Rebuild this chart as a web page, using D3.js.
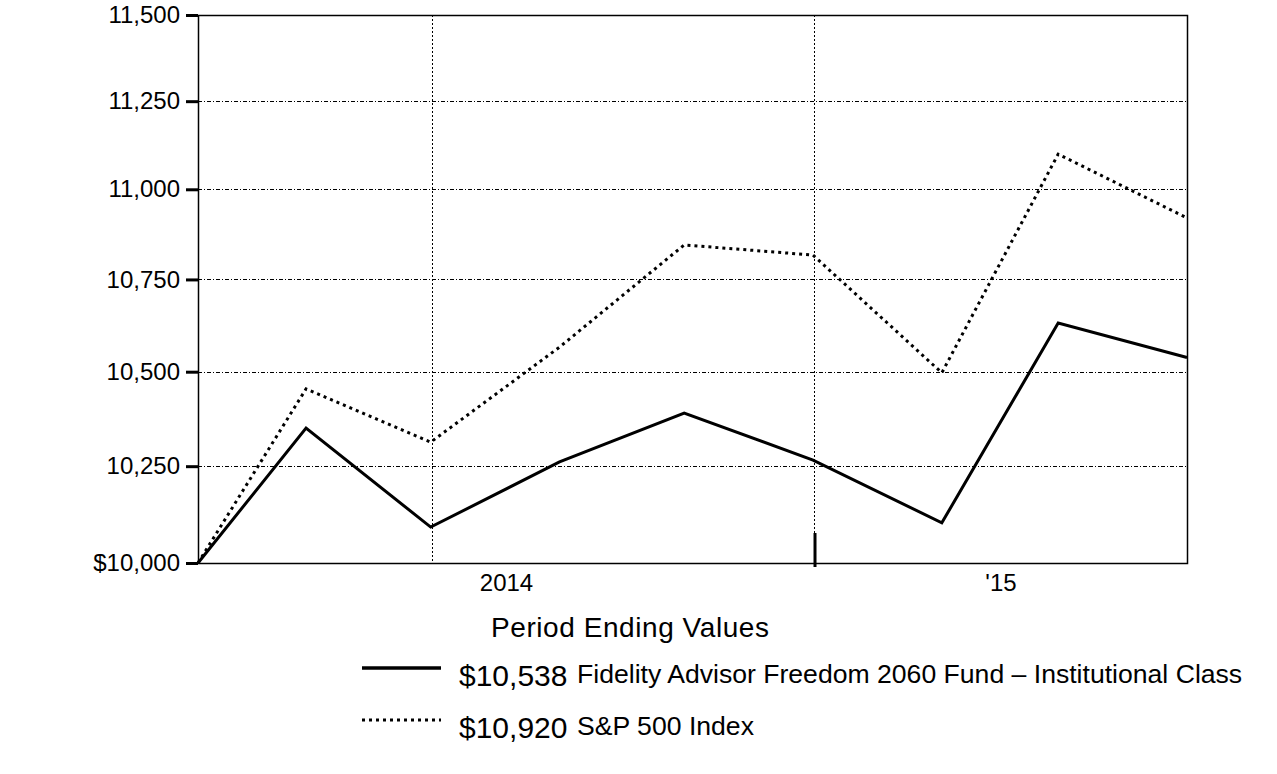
<!DOCTYPE html>
<html>
<head>
<meta charset="utf-8">
<script src="https://cdn.jsdelivr.net/npm/d3@7"></script>
<style>
  body { margin: 0; background: #fff; }
  svg text { font-family: "Liberation Sans", Arial, sans-serif; fill: #000; }
</style>
</head>
<body>
<div id="chart"></div>
<script>
(function() {

    var width = 1277;
    var height = 774;

    // period ends (fund inception Aug 5, 2014 through Mar 31, 2015)
    var dates = ["2014-08-05", "2014-08-31", "2014-09-30", "2014-10-31", "2014-11-30",
                 "2014-12-31", "2015-01-31", "2015-02-28", "2015-03-31"];
    var fundValues = [10000, 10350, 10092, 10261, 10390, 10266, 10103, 10631, 10538];
    var spValues = [10000, 10454, 10313, 10566, 10845, 10817, 10497, 11099, 10920];

    var yTicks = [10000, 10250, 10500, 10750, 11000, 11250, 11500];
    var yTickLabels = ["$10,000", "10,250", "10,500", "10,750", "11,000", "11,250", "11,500"];
    var gridDates = ["2014-09-30", "2014-12-31"];
    var yearBreak = "2014-12-31";
    var yearLabels = ["2014", "'15"];

    var legendNames = ["Fidelity Advisor Freedom 2060 Fund \u2013 Institutional Class", "S&P 500 Index"];
    var legendValues = ["$10,538", "$10,920"];

    var parse = d3.utcParse("%Y-%m-%d");

    var left = 198, right = 1187, top = 15, bottom = 563;

    var x = d3.scaleUtc()
        .domain([parse(dates[0]), parse(dates[dates.length - 1])])
        .range([left, right]);

    var y = d3.scaleLog()
        .domain([10000, 11500])
        .range([bottom, top]);

    var svg = d3.select("#chart")
        .append("svg")
        .attr("width", width)
        .attr("height", height);

    // horizontal grid
    svg.selectAll(".hgrid")
        .data(yTicks.slice(1, -1))
        .enter().append("line")
        .attr("class", "hgrid")
        .attr("x1", left).attr("x2", right)
        .attr("y1", function (d) { return Math.round(y(d)) + 0.5; })
        .attr("y2", function (d) { return Math.round(y(d)) + 0.5; })
        .attr("stroke", "#000")
        .attr("stroke-width", 1)
        .attr("stroke-dasharray", "4,2,1,2");

    // vertical grid
    svg.selectAll(".vgrid")
        .data(gridDates)
        .enter().append("line")
        .attr("class", "vgrid")
        .attr("x1", function (d) { return Math.round(x(parse(d))) + 1.5; })
        .attr("x2", function (d) { return Math.round(x(parse(d))) + 1.5; })
        .attr("y1", top).attr("y2", bottom)
        .attr("stroke", "#000")
        .attr("stroke-width", 1)
        .attr("stroke-dasharray", "2,2");

    // frame
    svg.append("rect")
        .attr("x", left + 0.5).attr("y", top + 0.5)
        .attr("width", right - left).attr("height", bottom - top)
        .attr("fill", "none")
        .attr("stroke", "#000")
        .attr("stroke-width", 1.5);

    // y axis ticks + labels
    var yAxis = d3.axisLeft(y)
        .tickValues(yTicks)
        .tickSize(12)
        .tickPadding(6)
        .tickFormat(function (d, i) { return yTickLabels[i]; });

    var gy = svg.append("g")
        .attr("transform", "translate(" + left + ",0)")
        .call(yAxis);
    gy.select(".domain").remove();
    gy.selectAll(".tick line").attr("stroke", "#000").attr("stroke-width", 3);
    gy.selectAll(".tick text")
        .style("font-family", "'Liberation Sans', Arial, sans-serif")
        .style("font-size", "24px")
        .attr("fill", "#000");

    // year break tick
    var xb = x(parse(yearBreak)) + 2;
    svg.append("line")
        .attr("x1", xb).attr("x2", xb)
        .attr("y1", bottom - 30).attr("y2", bottom + 4)
        .attr("stroke", "#000")
        .attr("stroke-width", 3);

    // year labels centred in their segments
    var yearCentres = [(left + xb) / 2, (xb + right) / 2];
    svg.selectAll(".year")
        .data(yearLabels)
        .enter().append("text")
        .attr("class", "year")
        .attr("x", function (d, i) { return yearCentres[i]; })
        .attr("y", 591)
        .attr("text-anchor", "middle")
        .style("font-size", "24px")
        .text(function (d) { return d; });

    svg.append("text")
        .attr("x", 491)
        .attr("y", 637)
        .style("font-size", "28px")
        .attr("textLength", 278)
        .text("Period Ending Values");

    // series
    var line = d3.line()
        .x(function (d, i) { return x(parse(dates[i])); })
        .y(function (d) { return y(d); });

    svg.append("path")
        .datum(spValues)
        .attr("d", line)
        .attr("fill", "none")
        .attr("stroke", "#000")
        .attr("stroke-width", 3)
        .attr("stroke-dasharray", "3,4");

    svg.append("path")
        .datum(fundValues)
        .attr("d", line)
        .attr("fill", "none")
        .attr("stroke", "#000")
        .attr("stroke-width", 3);

    // legend
    var rows = [0, 1];
    var rowY = [668, 720];
    var lg = svg.selectAll(".leg").data(rows).enter().append("g").attr("class", "leg");

    lg.append("line")
        .attr("x1", 362).attr("x2", 441)
        .attr("y1", function (d) { return rowY[d]; })
        .attr("y2", function (d) { return rowY[d]; })
        .attr("stroke", "#000")
        .attr("stroke-width", function (d) { return d === 0 ? 3.5 : 3; })
        .attr("stroke-dasharray", function (d) { return d === 0 ? null : "3,4"; });

    lg.append("text")
        .attr("x", 459)
        .attr("y", function (d) { return rowY[d] + 18; })
        .style("font-size", "30px")
        .text(function (d) { return legendValues[d]; });

    lg.append("text")
        .attr("x", 577)
        .attr("y", function (d) { return rowY[d] + 15; })
        .style("font-size", "26.6px")
        .text(function (d) { return legendNames[d]; });

})();
</script>
</body>
</html>
